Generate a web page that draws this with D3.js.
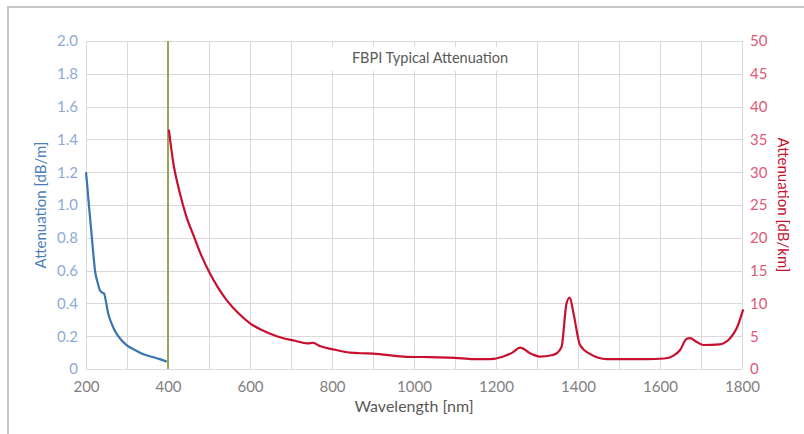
<!DOCTYPE html>
<html>
<head>
<meta charset="utf-8">
<script src="https://cdn.jsdelivr.net/npm/d3@7"></script>
<style>
  body { margin: 0; background: #fff; }
  svg { display: block; font-family: Lato, "Open Sans", sans-serif; }
</style>
</head>
<body>
<svg width="804" height="434"></svg>
<script>
// UV range, dB/m (left axis)
const blueNm  = [200, 203, 206, 210, 214, 218, 222, 228, 234, 240, 244, 248, 254, 262, 271, 285, 299, 320, 340, 360, 380, 397];
const blueVal = [1.20, 1.12, 1.03, 0.92, 0.81, 0.70, 0.60, 0.53, 0.48, 0.465, 0.46, 0.42, 0.34, 0.28, 0.23, 0.18, 0.146, 0.115, 0.09, 0.075, 0.06, 0.045];

// VIS/NIR range, dB/km (right axis)
const redNm  = [402, 413, 429, 445, 462, 482, 502, 522, 543, 570, 600, 630, 665, 710, 740, 754, 770, 803, 844, 868, 900, 974, 1039, 1100, 1145, 1185, 1218, 1240, 1259, 1283, 1307, 1335, 1348, 1360, 1372, 1380, 1389, 1405, 1429, 1470, 1520, 1567, 1610, 1632, 1649, 1665, 1673, 1690, 1706, 1746, 1760, 1771, 1787, 1803];
const redVal = [36.5, 31.4, 26.8, 23.2, 20.4, 17.2, 14.6, 12.4, 10.5, 8.6, 6.97, 5.9, 5.0, 4.3, 3.9, 4.0, 3.5, 3.0, 2.5, 2.4, 2.35, 1.9, 1.8, 1.7, 1.5, 1.5, 1.9, 2.5, 3.25, 2.4, 1.9, 2.1, 2.4, 3.4, 10.0, 10.9, 8.5, 3.66, 2.3, 1.5, 1.5, 1.5, 1.6, 2.0, 2.9, 4.6, 4.7, 4.1, 3.66, 3.76, 4.1, 4.7, 6.2, 9.1];

const dividerNm = 400;

const xTicks = [200, 400, 600, 800, 1000, 1200, 1400, 1600, 1800];
const xGrid = d3.range(200, 1801, 100);
const leftTicks = [0, 0.2, 0.4, 0.6, 0.8, 1.0, 1.2, 1.4, 1.6, 1.8, 2.0];
const rightTicks = [0, 5, 10, 15, 20, 25, 30, 35, 40, 45, 50];

const svg = d3.select("svg");
const m = { left: 86, right: 742, top: 41, bottom: 369 };

const x = d3.scaleLinear().domain([200, 1800]).range([m.left, m.right]);
const yL = d3.scaleLinear().domain([0, 2]).range([m.bottom, m.top]);
const yR = d3.scaleLinear().domain([0, 50]).range([m.bottom, m.top]);

// outer frame (extends past the window on right/bottom)
svg.append("rect")
    .attr("x", 8).attr("y", 7)
    .attr("width", 820).attr("height", 460)
    .attr("fill", "none")
    .attr("stroke", "#c6c6c6")
    .attr("stroke-width", 2);

// grid
const grid = svg.append("g").attr("stroke", "#d9d9d9").attr("stroke-width", 1);
grid.selectAll("line.v").data(xGrid).enter().append("line")
    .attr("x1", d => Math.round(x(d)) + 0.5).attr("x2", d => Math.round(x(d)) + 0.5)
    .attr("y1", m.top).attr("y2", m.bottom);
grid.selectAll("line.h").data(leftTicks).enter().append("line")
    .attr("x1", m.left).attr("x2", m.right)
    .attr("y1", d => Math.round(yL(d)) + 0.5).attr("y2", d => Math.round(yL(d)) + 0.5);

// title with white box behind
const title = svg.append("g");
title.append("rect")
    .attr("x", 331).attr("y", 47).attr("width", 190).attr("height", 24)
    .attr("fill", "#fff");
title.append("text")
    .attr("x", 430).attr("y", 63)
    .attr("text-anchor", "middle")
    .attr("font-size", 14.5)
    .attr("fill", "#595959")
    .text("FBPI Typical Attenuation");

// axes
const xAxis = svg.append("g")
    .attr("transform", `translate(0,${m.bottom})`)
    .call(d3.axisBottom(x).tickValues(xTicks).tickSize(0).tickPadding(12).tickFormat(d3.format("d")));
xAxis.select(".domain").remove();
xAxis.selectAll("text").attr("font-size", 15).attr("fill", "#7f7f7f").attr("font-family", "Lato, sans-serif");

const leftAxis = svg.append("g")
    .attr("transform", `translate(${m.left},0)`)
    .call(d3.axisLeft(yL).tickValues(leftTicks).tickSize(0).tickPadding(8)
        .tickFormat(d => d === 0 ? "0" : d3.format(".1f")(d)));
leftAxis.select(".domain").remove();
leftAxis.selectAll("text").attr("font-size", 15).attr("fill", "#8eaad6").attr("font-family", "Lato, sans-serif");

const rightAxis = svg.append("g")
    .attr("transform", `translate(${m.right},0)`)
    .call(d3.axisRight(yR).tickValues(rightTicks).tickSize(0).tickPadding(8));
rightAxis.select(".domain").remove();
rightAxis.selectAll("text").attr("font-size", 15).attr("fill", "#dc5a76").attr("font-family", "Lato, sans-serif");

// axis titles
svg.append("text")
    .attr("transform", `translate(46,${(m.top + m.bottom) / 2}) rotate(-90)`)
    .attr("text-anchor", "middle")
    .attr("font-size", 15)
    .attr("fill", "#4a7ebb")
    .text("Attenuation [dB/m]");

svg.append("text")
    .attr("transform", `translate(778,${(m.top + m.bottom) / 2}) rotate(90)`)
    .attr("text-anchor", "middle")
    .attr("font-size", 15)
    .attr("fill", "#c8102e")
    .text("Attenuation [dB/km]");

svg.append("text")
    .attr("x", 414).attr("y", 412)
    .attr("text-anchor", "middle")
    .attr("font-size", 16)
    .attr("fill", "#595959")
    .text("Wavelength [nm]");

// divider at 400 nm
svg.append("line")
    .attr("x1", x(dividerNm)).attr("x2", x(dividerNm))
    .attr("y1", yL(2)).attr("y2", yL(0))
    .attr("stroke", "#9aa35a")
    .attr("stroke-width", 2);

// series
const blueData = blueNm.map((d, i) => [d, blueVal[i]]);
const redData = redNm.map((d, i) => [d, redVal[i]]);

svg.append("path")
    .datum(blueData)
    .attr("fill", "none")
    .attr("stroke", "#3a75b0")
    .attr("stroke-width", 2.2)
    .attr("d", d3.line().x(d => x(d[0])).y(d => yL(d[1])).curve(d3.curveMonotoneX));

svg.append("path")
    .datum(redData)
    .attr("fill", "none")
    .attr("stroke", "#c8102e")
    .attr("stroke-width", 2.2)
    .attr("d", d3.line().x(d => x(d[0])).y(d => yR(d[1])).curve(d3.curveMonotoneX));
</script>
</body>
</html>
